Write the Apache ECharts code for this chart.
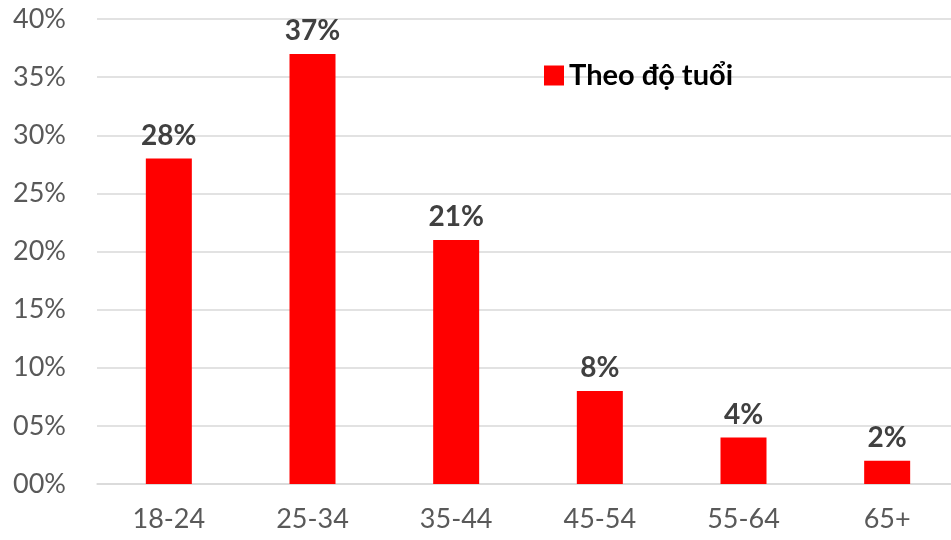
<!DOCTYPE html>
<html><head><meta charset="utf-8">
<script src="https://cdn.jsdelivr.net/npm/echarts@6/dist/echarts.min.js"></script>
<style>html,body{margin:0;padding:0;background:#fff;overflow:hidden;width:951px;height:540px}#c{width:962px;height:540px}</style>
</head><body><div id="c"></div>
<script>
const categories = ['18-24','25-34','35-44','45-54','55-64','65+'];
const values = [28, 37, 21, 8, 4, 2];
const seriesName = 'Theo độ tuổi';
const FONT = 'Lato, "Open Sans", sans-serif';
const chart = echarts.init(document.getElementById('c'));
chart.setOption({
  animation: false,
  backgroundColor: '#fff',
  legend: {
    data: [seriesName], left: 539, top: 56, itemWidth: 20, itemHeight: 20, itemGap: 5,
    icon: 'rect',
    textStyle: {fontFamily: FONT, fontSize: 29, fontWeight: 'bold', color: '#000'}
  },
  grid: {left: 97, right: 3, top: 19, bottom: 56},
  xAxis: {
    type: 'category', data: categories,
    axisLine: {show: true, lineStyle: {color: '#d9d9d9', width: 1.5}},
    axisTick: {show: false},
    axisLabel: {fontFamily: FONT, fontSize: 27, color: '#595959', margin: 22}
  },
  yAxis: {
    type: 'value', min: 0, max: 40, interval: 5,
    axisLine: {show: false}, axisTick: {show: false},
    splitLine: {lineStyle: {color: '#d9d9d9', width: 1.5}},
    axisLabel: {fontFamily: FONT, fontSize: 27, color: '#595959', margin: 31,
      formatter: v => (v < 10 ? '0' + v : v) + '%'}
  },
  series: [{
    name: seriesName, type: 'bar', data: values, barWidth: 46,
    itemStyle: {color: '#ff0000'},
    label: {show: true, position: 'top', distance: 9, formatter: p => p.value + '%',
      fontFamily: FONT, fontSize: 28, fontWeight: 'bold', color: '#404040'}
  }]
});
</script></body></html>
